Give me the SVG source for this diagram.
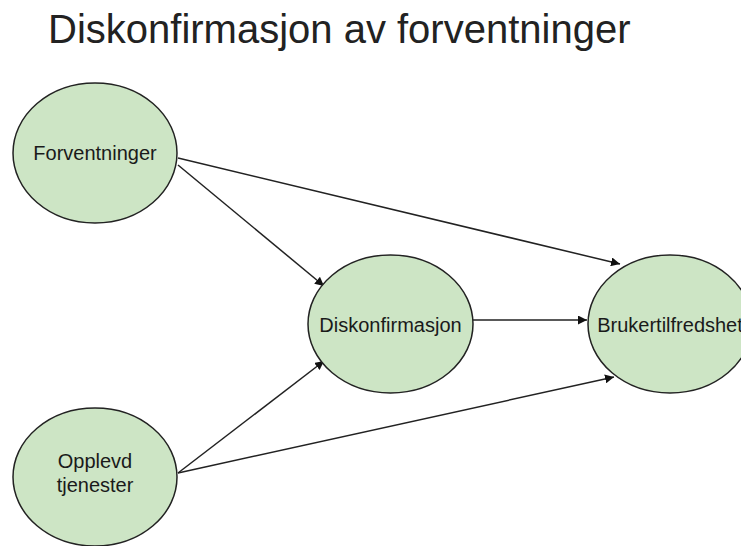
<svg xmlns="http://www.w3.org/2000/svg" width="741" height="546" viewBox="0 0 741 546">
<style>
.node ellipse{fill:#cde5c5;stroke:#222;stroke-width:1.5}
.node text{font-family:"Liberation Sans",Arial,sans-serif;font-size:20px;fill:#1a1a1a;text-anchor:middle}
.title{font-family:"Liberation Sans",Arial,sans-serif;font-size:40px;fill:#222}
#connectors line{stroke:#222;stroke-width:1.5;fill:none;marker-end:url(#arr)}
</style>
<defs>
<marker id="arr" viewBox="0 0 10 10" refX="10" refY="5" markerWidth="6" markerHeight="6" orient="auto" markerUnits="strokeWidth">
<path d="M0,0 L10,5 L0,10 z" fill="#111"/>
</marker>
</defs>
<rect width="741" height="546" fill="#fff"/>
<text class="title" x="48" y="43">Diskonfirmasjon av forventninger</text>
<g id="connectors">
<line x1="178" y1="165" x2="324" y2="286"/>
<line x1="178" y1="158" x2="620" y2="264"/>
<line x1="473" y1="320" x2="587" y2="320"/>
<line x1="178" y1="473" x2="324" y2="361"/>
<line x1="178" y1="473" x2="614" y2="377"/>
</g>
<g id="node-forventninger" class="node">
<ellipse cx="95" cy="153" rx="82" ry="70"/>
<text x="95" y="160">Forventninger</text>
</g>
<g id="node-opplevd" class="node">
<ellipse cx="95" cy="477" rx="82" ry="69"/>
<text x="95" y="468">Opplevd</text>
<text x="95" y="492">tjenester</text>
</g>
<g id="node-diskonfirmasjon" class="node">
<ellipse cx="390.5" cy="324" rx="82.5" ry="69"/>
<text x="390.5" y="332">Diskonfirmasjon</text>
</g>
<g id="node-brukertilfredshet" class="node">
<ellipse cx="670" cy="324" rx="82" ry="69"/>
<text x="670" y="332">Brukertilfredshet</text>
</g>
</svg>
